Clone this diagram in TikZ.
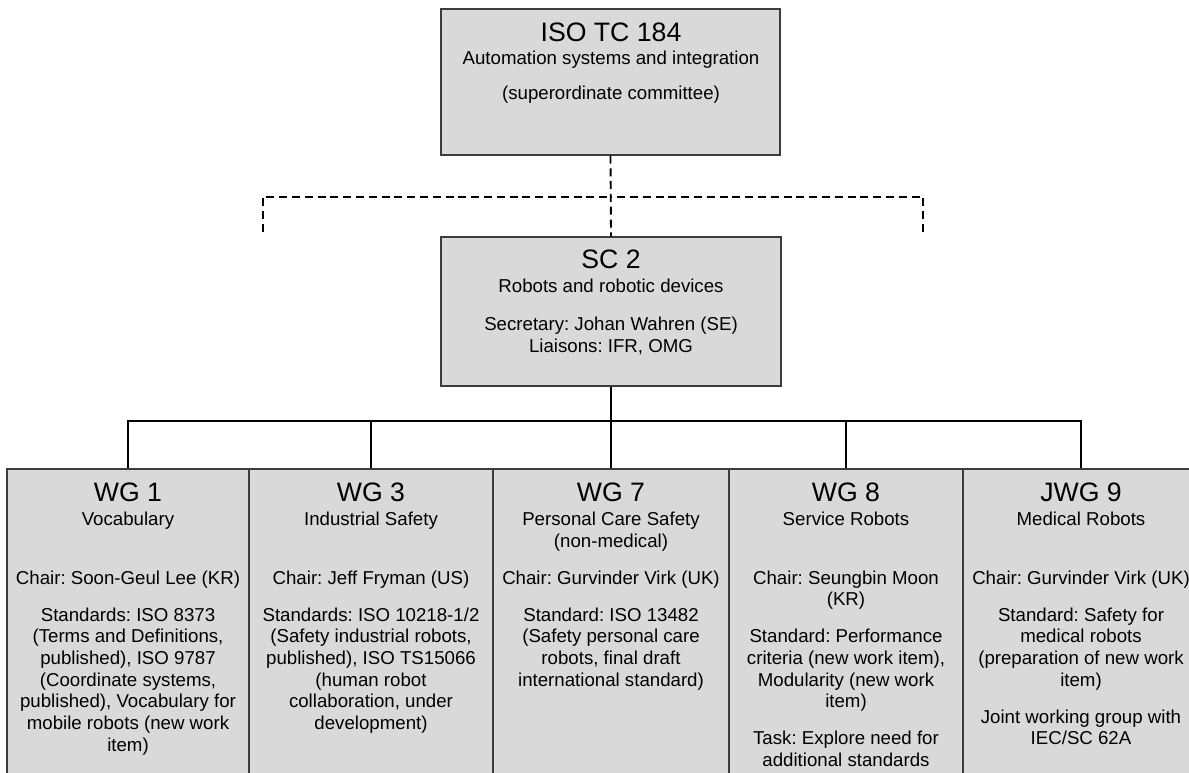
\documentclass[tikz,border=0pt]{standalone}
\usepackage{fontspec}
\setmainfont{Liberation Sans}
\usetikzlibrary{fit}
\frenchspacing

\definecolor{boxgray}{RGB}{217,217,217}
\definecolor{edgegray}{RGB}{60,60,60}

\tikzset{
  unit/.style={draw=edgegray, fill=boxgray, line width=0.8pt, inner sep=0pt},
  txt/.style={align=center, anchor=north, inner sep=0pt, font=\fontsize{14}{16.3}\selectfont},
  link/.style={line width=1.3pt, black},
  dashlink/.style={line width=1.4pt, black, dash pattern=on 6pt off 3.6pt},
}
\newcommand{\unitname}[1]{{\fontsize{20}{24}\selectfont #1}}

\begin{document}
\begin{tikzpicture}[x=0.75pt,y=-0.75pt]
\clip (0,0) rectangle (1189,773);

% technical committee
\node[unit, fit={(441,9) (780,155)}] (tc) {};
\node[txt] (tct) at (611,22.4) {\unitname{ISO TC 184}\\[1pt]Automation systems and integration\\[10pt](superordinate committee)};

% subcommittee
\node[unit, fit={(441,237) (781,386)}] (sc) {};
\node[txt] (sct) at (611,249.4) {\unitname{SC 2}\\[1.7pt]Robots and robotic devices\\[12.2pt]Secretary: Johan Wahren (SE)\\Liaisons: IFR, OMG};

% working groups
\node[unit, fit={(7,469) (249,800)}] (wg1) {};
\node[txt] (wg1t) at (128,482.4) {\unitname{WG 1}\\[1.7pt]Vocabulary\\[27.75pt]Chair: Soon-Geul Lee (KR)\\[11.45pt]Standards: ISO 8373\\(Terms and Definitions,\\published), ISO 9787\\(Coordinate systems,\\published), Vocabulary for\\mobile robots (new work\\item)};

\node[unit, fit={(249,469) (493,800)}] (wg3) {};
\node[txt] (wg3t) at (371,482.4) {\unitname{WG 3}\\[1.7pt]Industrial Safety\\[27.75pt]Chair: Jeff Fryman (US)\\[11.45pt]Standards: ISO 10218-1/2\\(Safety industrial robots,\\published), ISO TS15066\\(human robot\\collaboration, under\\development)};

\node[unit, fit={(493,469) (729,800)}] (wg7) {};
\node[txt] (wg7t) at (611,482.4) {\unitname{WG 7}\\[1.7pt]Personal Care Safety\\(non-medical)\\[11.45pt]Chair: Gurvinder Virk (UK)\\[11.45pt]Standard: ISO 13482\\(Safety personal care\\robots, final draft\\international standard)};

\node[unit, fit={(729,469) (963,800)}] (wg8) {};
\node[txt] (wg8t) at (846,482.4) {\unitname{WG 8}\\[1.7pt]Service Robots\\[27.75pt]Chair: Seungbin Moon\\(KR)\\[11.45pt]Standard: Performance\\criteria (new work item),\\Modularity (new work\\item)\\[11.45pt]Task: Explore need for\\additional standards};

\node[unit, fit={(963,469) (1199,800)}] (jwg9) {};
\node[txt] (jwg9t) at (1081,482.4) {\unitname{JWG 9}\\[1.7pt]Medical Robots\\[27.75pt]Chair: Gurvinder Virk (UK)\\[11.45pt]Standard: Safety for\\medical robots\\(preparation of new work\\item)\\[11.45pt]Joint working group with\\IEC/SC 62A};

% dashed link to the superordinate committee
\coordinate (dbus) at (611,197);
\coordinate (lstub) at (263,232);
\coordinate (rstub) at (923,232);
\draw[dashlink] (tc.south) -- (sc.north);
\draw[dashlink] (lstub) |- (dbus);
\draw[dashlink] (rstub) |- (dbus);

% solid links to the working groups
\coordinate (bus) at (611,421);
\draw[link] (sc.south) -- (bus);
\draw[link] (bus) -| (wg1.north);
\draw[link] (bus) -| (wg3.north);
\draw[link] (bus) -| (wg7.north);
\draw[link] (bus) -| (wg8.north);
\draw[link] (bus) -| (jwg9.north);

\end{tikzpicture}
\end{document}
